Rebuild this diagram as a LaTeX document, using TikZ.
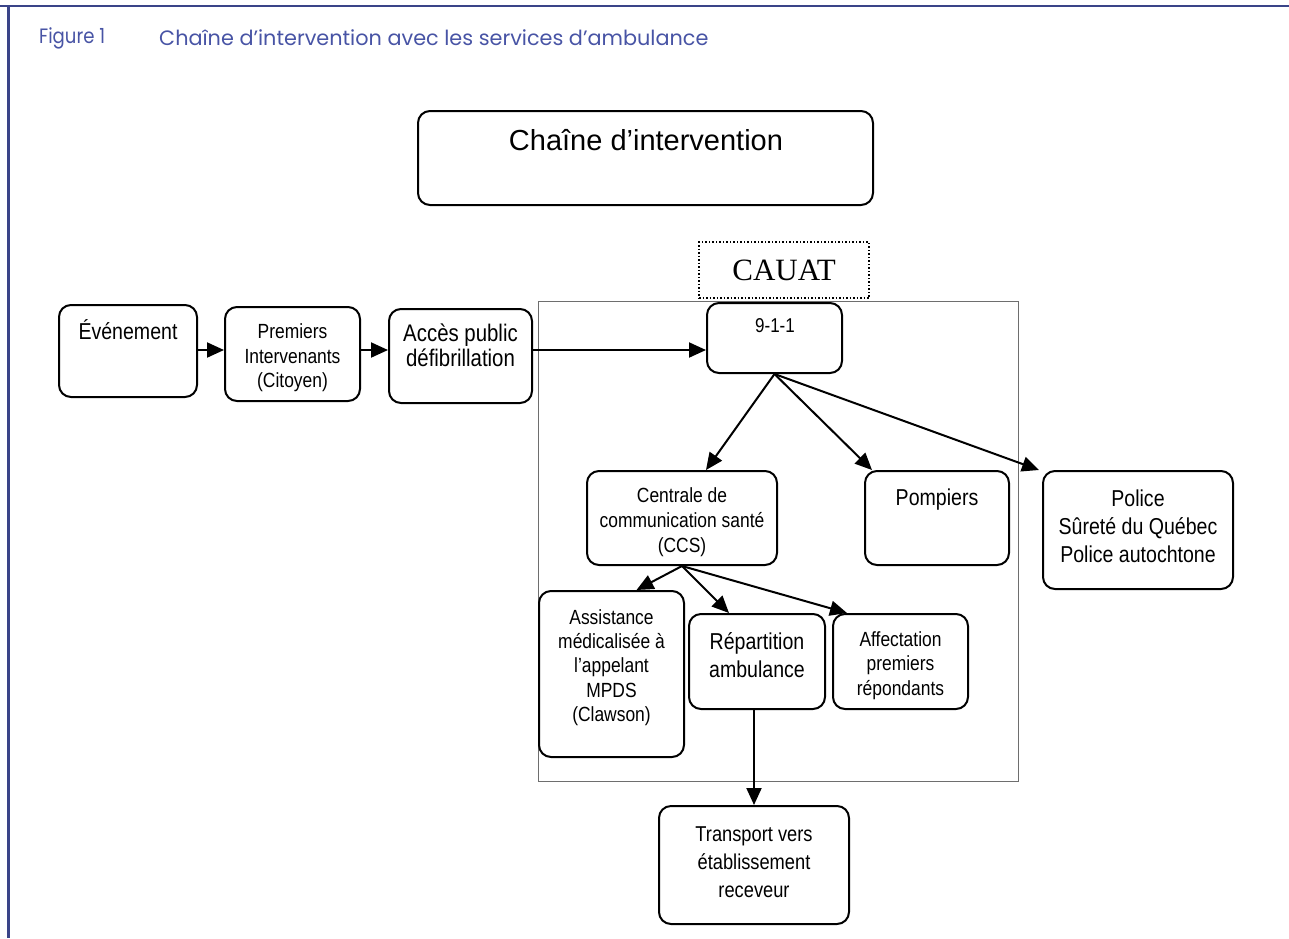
\documentclass[tikz,border=0pt]{standalone}
\usepackage{fontspec}
\setmainfont{Liberation Sans}
\newfontfamily\narrowsans[FakeStretch=0.85]{Liberation Sans}
\newfontfamily\serifcauat{Liberation Serif}
\newfontfamily\captionfont{Poppins}
\usetikzlibrary{arrows.meta}
\definecolor{framecol}{RGB}{58,68,136}
\definecolor{capcol}{RGB}{72,84,165}
\definecolor{graycol}{RGB}{110,110,110}
\tikzset{
  box/.style={draw=black, line width=2pt, rounded corners=12pt, inner sep=0pt},
  txt/.style={align=center, inner sep=0pt, text=black},
  conn/.style={line width=2pt, -{Triangle[length=17pt,width=15pt]}},
}
\begin{document}
\begin{tikzpicture}[x=1pt,y=-1pt]
\useasboundingbox (0,0) rectangle (1289,938);
% page frame
\draw[framecol, line width=2.5pt] (0,6) -- (1289,6);
\draw[framecol, line width=3pt] (8,6) -- (8,938);
\node[anchor=west, inner sep=0pt, text=capcol, font=\captionfont\fontsize{20.8}{24}\selectfont, xscale=0.87] (figlbl) at (39,38) {Figure 1};
\node[anchor=west, inner sep=0pt, text=capcol, font=\captionfont\fontsize{20.8}{24}\selectfont] (figcap) at (159,38) {Chaîne d’intervention avec les services d’ambulance};

% title box
\node[box, minimum width=455pt, minimum height=94pt] (title) at (645.5,158) {};
\node[txt, font=\fontsize{29}{34}\selectfont] (titlet) at (646,140) {Chaîne d’intervention};

% CAUAT frame
\draw[graycol, line width=1pt] (538,301) rectangle (1018,781);
\node[draw=black, dotted, line width=1.5pt, minimum width=170pt, minimum height=56pt, inner sep=0pt, font=\serifcauat\fontsize{31}{36}\selectfont] (cauat) at (784,270) {CAUAT};

% chain boxes
\node[box, minimum width=138pt, minimum height=92pt] (ev) at (128,351) {};
\node[txt, font=\narrowsans\fontsize{23}{28}\selectfont] (evt) at (128,330) {Événement};

\node[box, minimum width=135pt, minimum height=94pt] (pi) at (292.5,354) {};
\node[txt, font=\narrowsans\fontsize{20.5}{24.5}\selectfont] (pit) at (292.5,358) {Premiers\\Intervenants\\(Citoyen)};

\node[box, minimum width=143pt, minimum height=94pt] (acc) at (460.5,356) {};
\node[txt, font=\narrowsans\fontsize{24}{24.5}\selectfont] (acct) at (460.5,345.5) {Accès public\\défibrillation};

\node[box, minimum width=135pt, minimum height=70pt] (n911) at (774.5,338) {};
\node[txt, font=\narrowsans\fontsize{20}{24}\selectfont] (n911t) at (775,326) {9-1-1};

\node[box, minimum width=190pt, minimum height=94pt] (ccs) at (682,518) {};
\node[txt, font=\narrowsans\fontsize{20.5}{25}\selectfont] (ccst) at (682,522) {Centrale de\\communication santé\\(CCS)};

\node[box, minimum width=144pt, minimum height=94pt] (pomp) at (937,518) {};
\node[txt, font=\narrowsans\fontsize{23}{28}\selectfont] (pompt) at (937,499.5) {Pompiers};

\node[box, minimum width=190pt, minimum height=118pt] (pol) at (1138,530) {};
\node[txt, font=\narrowsans\fontsize{23}{28}\selectfont] (polt) at (1138,526.5) {Police\\Sûreté du Québec\\Police autochtone};

\node[box, minimum width=145pt, minimum height=166pt] (assist) at (611.5,674) {};
\node[txt, font=\narrowsans\fontsize{20.5}{24.3}\selectfont] (assistt) at (611.5,667.5) {Assistance\\médicalisée à\\l’appelant\\MPDS\\(Clawson)};

\node[box, minimum width=136pt, minimum height=95pt] (rep) at (757,661.5) {};
\node[txt, font=\narrowsans\fontsize{23}{28}\selectfont] (rept) at (757,655.5) {Répartition\\ambulance};

\node[box, minimum width=135pt, minimum height=95pt] (aff) at (900.5,661.5) {};
\node[txt, font=\narrowsans\fontsize{20.5}{24.5}\selectfont] (afft) at (900.5,665.5) {Affectation\\premiers\\répondants};

\node[box, minimum width=190pt, minimum height=118pt] (trans) at (754,865) {};
\node[txt, font=\narrowsans\fontsize{21.5}{28}\selectfont] (transt) at (754,862.5) {Transport vers\\établissement\\receveur};

% connectors
\draw[conn] ([yshift=1pt]ev.east) -- ([yshift=1pt]ev.east -| pi.west);
\draw[conn] ([yshift=4pt]pi.east) -- ([yshift=4pt]pi.east -| acc.west);
\draw[conn] ([yshift=6pt]acc.east) -- ([yshift=6pt]acc.east -| n911.west);
\draw[conn] (n911.south) -- ([xshift=24pt]ccs.north);
\draw[conn] (n911.south) -- ([xshift=8pt]pomp.north west);
\draw[conn] (n911.south) -- ([xshift=-3pt]pol.north west);
\draw[conn] (ccs.south) -- ([xshift=25pt]assist.north);
\draw[conn] (ccs.south) -- ([xshift=-28pt]rep.north);
\draw[conn] (ccs.south) -- ([xshift=15pt]aff.north west);
\draw[conn] (trans.north |- rep.south) -- (trans.north);
\end{tikzpicture}
\end{document}
